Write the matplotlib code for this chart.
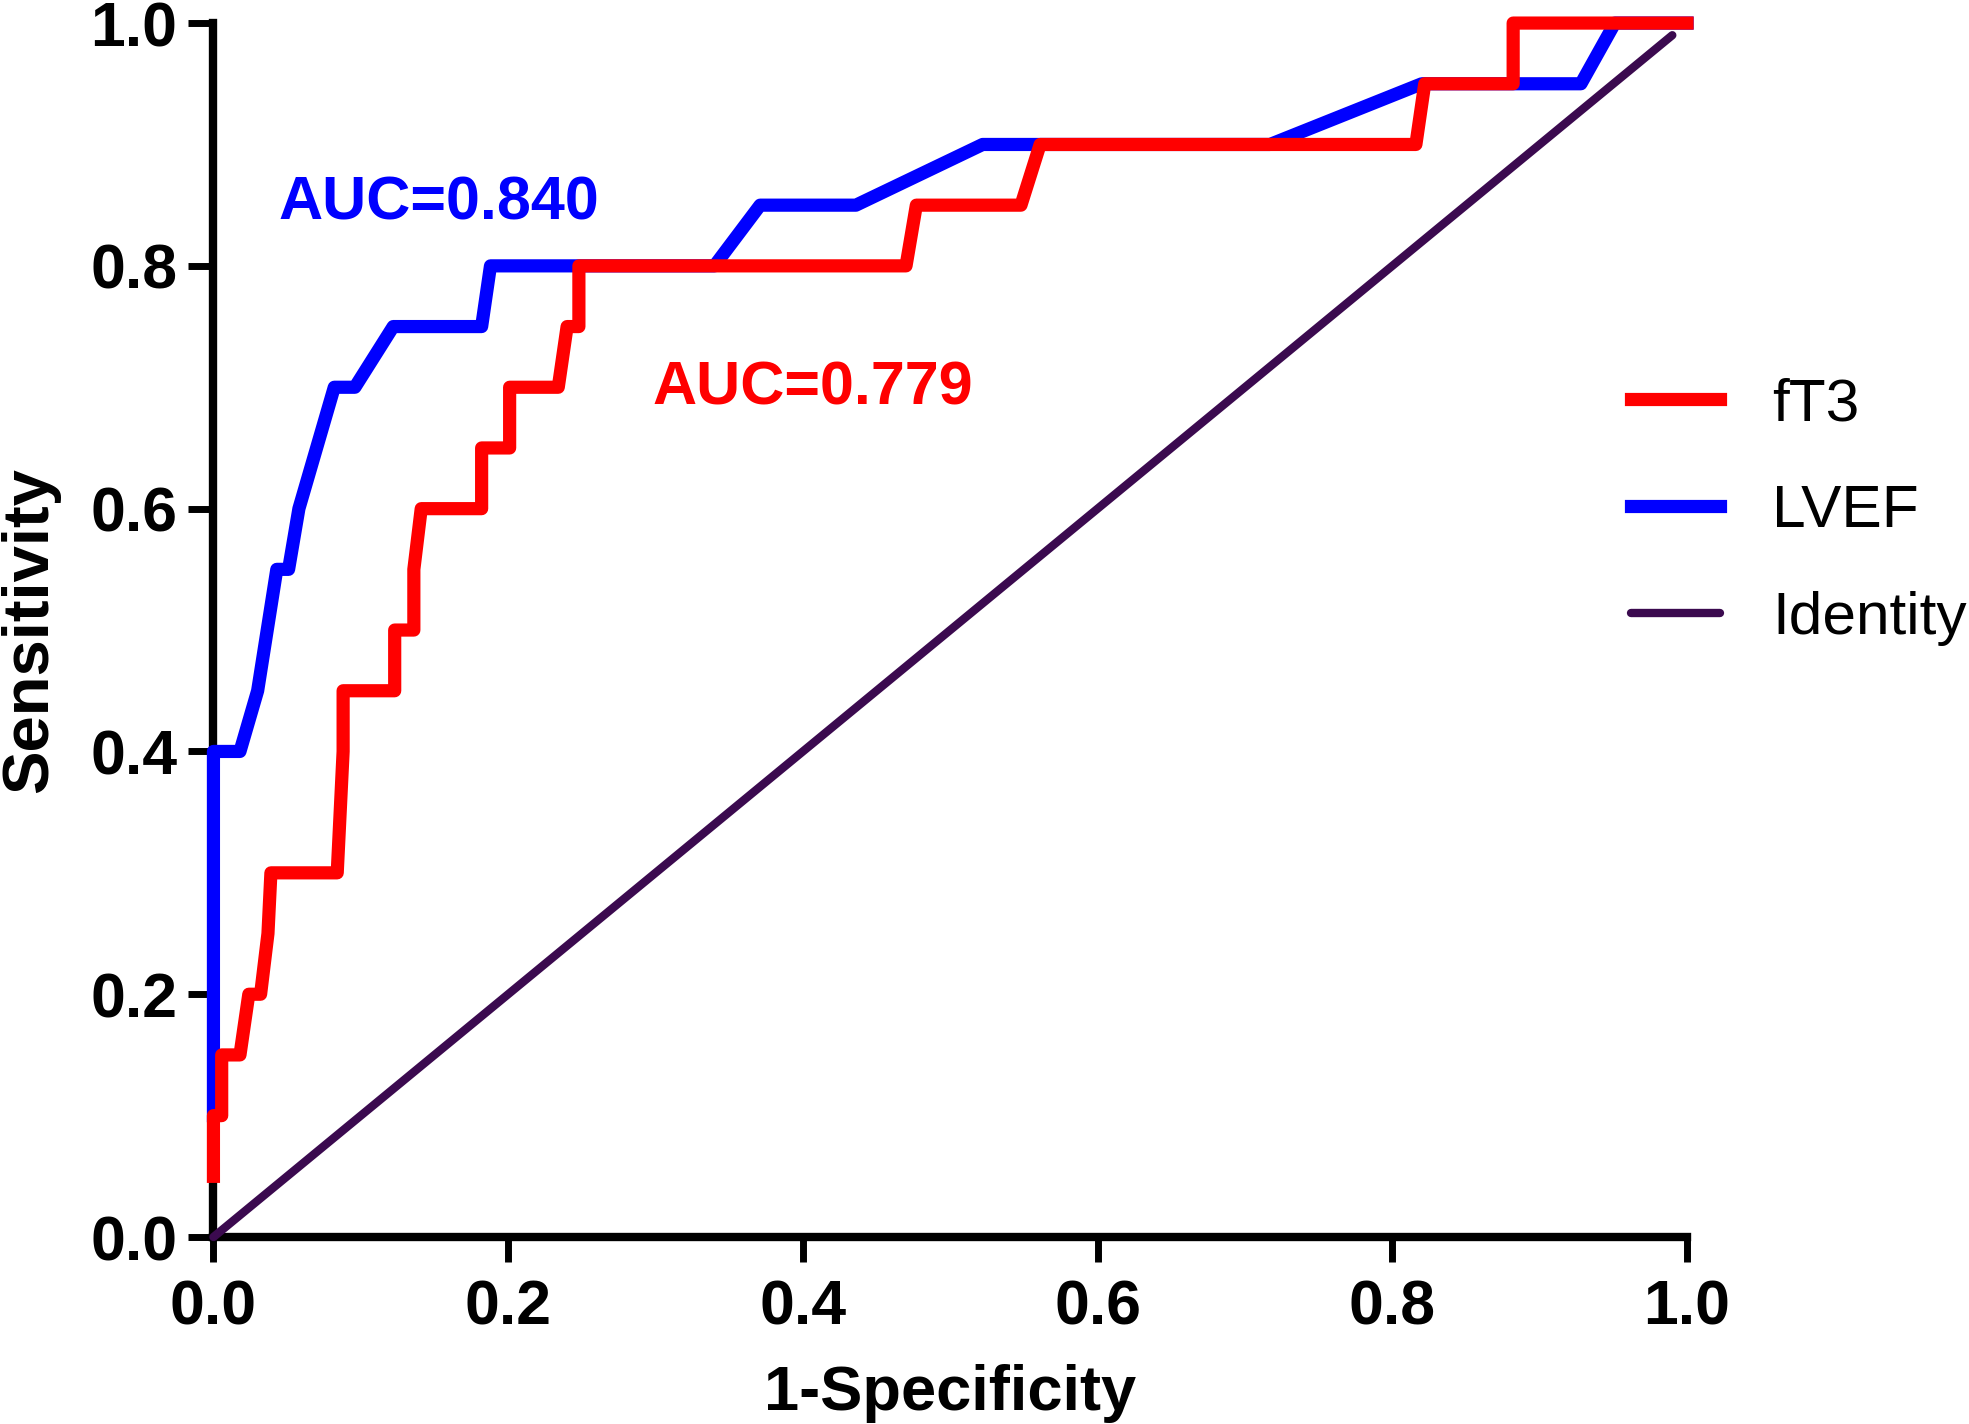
import matplotlib
matplotlib.use("Agg")
import matplotlib.pyplot as plt

# ROC curve vertices (1-specificity, sensitivity)
ft3_x = [0.0, 0.0, 0.0056, 0.0056, 0.018, 0.024, 0.032, 0.037, 0.039, 0.084, 0.088, 0.088,
         0.123, 0.123, 0.136, 0.136, 0.141, 0.182, 0.182, 0.201, 0.201, 0.234, 0.240, 0.248,
         0.248, 0.470, 0.477, 0.548, 0.561, 0.816, 0.822, 0.882, 0.882, 1.0]
ft3_y = [0.05, 0.10, 0.10, 0.15, 0.15, 0.20, 0.20, 0.25, 0.30, 0.30, 0.40, 0.45,
         0.45, 0.50, 0.50, 0.55, 0.60, 0.60, 0.65, 0.65, 0.70, 0.70, 0.75, 0.75,
         0.80, 0.80, 0.85, 0.85, 0.90, 0.90, 0.95, 0.95, 1.0, 1.0]

lvef_x = [0.0, 0.0, 0.018, 0.030, 0.043, 0.051, 0.058, 0.082, 0.096, 0.122, 0.182, 0.188,
          0.340, 0.371, 0.436, 0.522, 0.717, 0.820, 0.928, 0.951, 1.0]
lvef_y = [0.10, 0.40, 0.40, 0.45, 0.55, 0.55, 0.60, 0.70, 0.70, 0.75, 0.75, 0.80,
          0.80, 0.85, 0.85, 0.90, 0.90, 0.95, 0.95, 1.0, 1.0]

identity_x = [0.0, 0.99]
identity_y = [0.0, 0.99]

auc_labels = ["AUC=0.840", "AUC=0.779"]
ticks = [0.0, 0.2, 0.4, 0.6, 0.8, 1.0]
tick_labels = ["0.0", "0.2", "0.4", "0.6", "0.8", "1.0"]

RED = "#ff0000"
BLUE = "#0000ff"
PURPLE = "#3b0a4f"

plt.rcParams["font.family"] = ["Liberation Sans", "DejaVu Sans"]

fig = plt.figure(figsize=(19.69, 14.24), dpi=100)
ax = fig.add_axes([0.1084, 0.1313, 0.7484, 0.8525])

ax.plot(identity_x, identity_y, color=PURPLE, lw=6, solid_capstyle="round",
        clip_on=False, zorder=3, label="Identity")
ax.plot(lvef_x, lvef_y, color=BLUE, lw=9.5, solid_joinstyle="round",
        clip_on=False, zorder=3, label="LVEF")
ax.plot(ft3_x, ft3_y, color=RED, lw=9.5, solid_joinstyle="round",
        clip_on=False, zorder=4, label="fT3")

ax.text(0.044, 0.838, auc_labels[0], color=BLUE, fontsize=44, fontweight="bold")
ax.text(0.298, 0.686, auc_labels[1], color=RED, fontsize=44, fontweight="bold")

ax.set_xlim(0, 1)
ax.set_ylim(0, 1)
ax.set_xticks(ticks)
ax.set_yticks(ticks)
ax.set_xticklabels(tick_labels, fontsize=45, fontweight="bold")
ax.set_yticklabels(tick_labels, fontsize=45, fontweight="bold")
ax.tick_params(direction="out", length=18, width=5, pad=12)
ax.tick_params(axis="y", pad=8)

for side in ["top", "right"]:
    ax.spines[side].set_visible(False)
for side in ["left", "bottom"]:
    ax.spines[side].set_linewidth(6)

ax.set_xlabel("1-Specificity", fontsize=45.5, fontweight="bold", labelpad=19)
ax.set_ylabel("Sensitivity", fontsize=47, fontweight="bold", labelpad=22)

handles, labels = ax.get_legend_handles_labels()
order = [2, 1, 0]
fig.legend([handles[i] for i in order], [labels[i] for i in order],
           loc="center left", bbox_to_anchor=(0.8285, 0.6405), frameon=False,
           fontsize=43.5, handlelength=1.47, handletextpad=0.86, labelspacing=0.86,
           borderpad=0, borderaxespad=0)

fig.savefig("out.png", dpi=100)
